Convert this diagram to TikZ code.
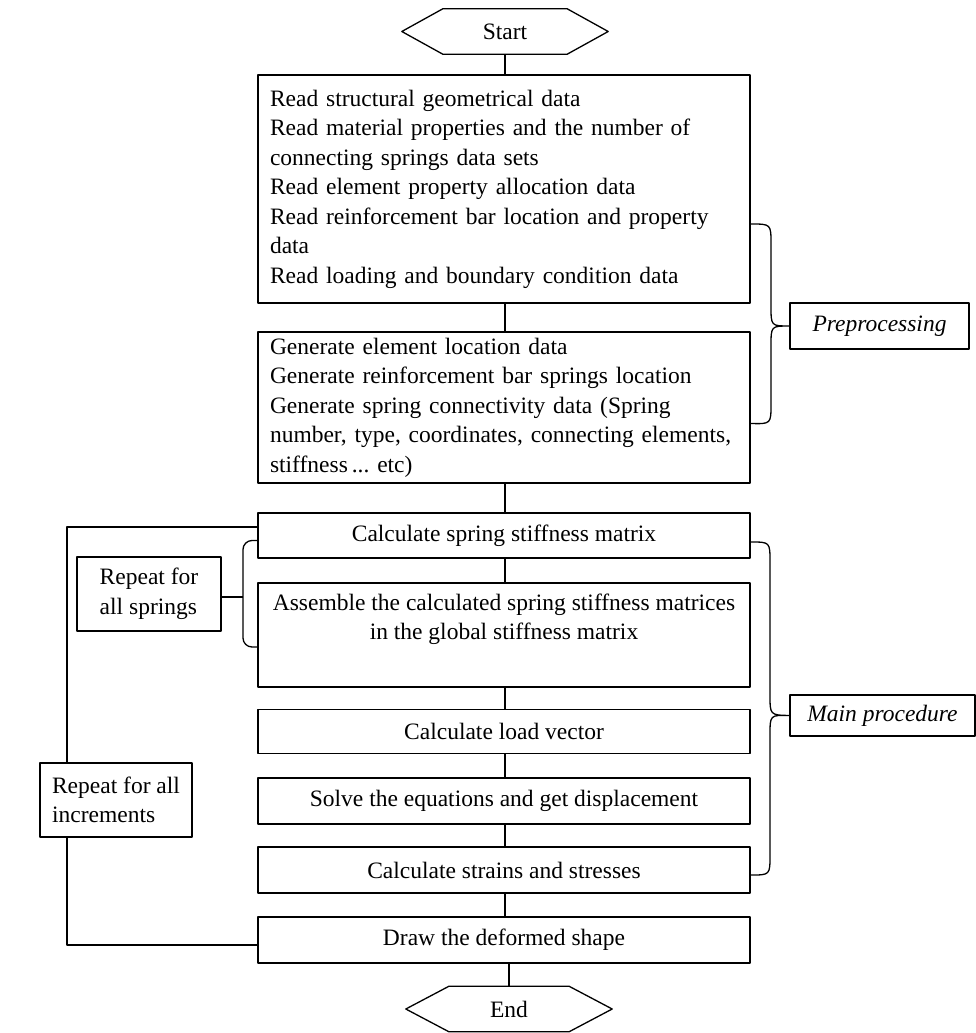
\documentclass[tikz,border=0pt]{standalone}
\usepackage{fontspec}
\setmainfont{Liberation Serif}
\usetikzlibrary{calc}
\begin{document}
\begin{tikzpicture}[x=1pt,y=-1pt,
  every node/.style={font=\fontsize{23.5}{29.5}\selectfont},
  ln/.style={line width=1.3pt, line join=round},
  stepbox/.style={draw, ln, minimum width=492, inner sep=0pt, align=center},
  hexnode/.style={minimum width=206, minimum height=45, inner sep=0pt},
  sidebox/.style={draw, ln, fill=white, inner sep=0pt, align=left},
  tagbox/.style={draw, ln, inner sep=0pt, font=\fontsize{23.5}{29.5}\selectfont\itshape}
]
\useasboundingbox (0,0) rectangle (976,1033);

% start / end
\node[hexnode] (start) at (505,31.5) {Start};
\draw[ln] (start.west) -- ($(start.north west)+(41,0)$) -- ($(start.north east)+(-41,0)$) -- (start.east) -- ($(start.south east)+(-41,0)$) -- ($(start.south west)+(41,0)$) -- cycle;
\node[hexnode] (end) at (509,1009) {End};
\draw[ln] (end.west) -- ($(end.north west)+(43,0)$) -- ($(end.north east)+(-43,0)$) -- (end.east) -- ($(end.south east)+(-43,0)$) -- ($(end.south west)+(43,0)$) -- cycle;

% main column
\node[stepbox, minimum height=228, text width=468, align=left] (s1) at (504,189) {Read structural geometrical data\\Read material properties and the number of\\connecting springs data sets\\Read element property allocation data\\Read reinforcement bar location and property\\data\\Read loading and boundary condition data};
\node[stepbox, minimum height=151, text width=468, align=left] (s2) at (504,407.5) {Generate element location data\\Generate reinforcement bar springs location\\Generate spring connectivity data (Spring\\number, type, coordinates, connecting elements,\\stiffness\,...\ etc)};
\node[stepbox, minimum height=45] (s3) at (504,535.5) {Calculate spring stiffness matrix};
\node[stepbox, minimum height=104, label={[anchor=north, align=center, yshift=-8pt]north:{Assemble the calculated spring stiffness matrices\\in the global stiffness matrix}}] (s4) at (504,635) {};
\node[stepbox, minimum height=44] (s5) at (504,731.5) {Calculate load vector};
\node[stepbox, minimum height=46] (s6) at (504,801) {Solve the equations and get displacement};
\node[stepbox, minimum height=46] (s7) at (504,870) {Calculate strains and stresses};
\node[stepbox, minimum height=46] (s8) at (504,940) {Draw the deformed shape};

% vertical connectors
\draw[ln] (start.south) -- (start.south |- s1.north);
\draw[ln] (start.south |- s1.south) -- (start.south |- s2.north);
\draw[ln] (start.south |- s2.south) -- (start.south |- s3.north);
\draw[ln] (start.south |- s3.south) -- (start.south |- s4.north);
\draw[ln] (start.south |- s4.south) -- (start.south |- s5.north);
\draw[ln] (start.south |- s5.south) -- (start.south |- s6.north);
\draw[ln] (start.south |- s6.south) -- (start.south |- s7.north);
\draw[ln] (start.south |- s7.south) -- (start.south |- s8.north);
\draw[ln] (end.north |- s8.south) -- (end.north);

% outer loop
\coordinate (lt) at (67,527);
\coordinate (lb) at (67,945);
\draw[ln] (lt -| s3.west) -- (lt) -- (lb) -- (lb -| s8.west);
\node[sidebox, minimum width=152, minimum height=74] (inc) at (116,800) {Repeat for all\\increments};

% inner bracket
\node[sidebox, minimum width=144, minimum height=74] (spr) at (149,594) {Repeat for\\all springs};
\coordinate (bt) at (243,597);
\draw[ln, rounded corners=9pt] ($(s3.west)+(0,5)$) -| (bt) |- ($(s4.west)+(0,12)$);
\draw[ln] (spr.east |- bt) -- (bt);

% right braces
\node[tagbox, minimum width=179, minimum height=46] (pre) at (879.5,326) {Preprocessing};
\node[tagbox, minimum width=185, minimum height=41] (mp) at (882.5,715.5) {Main procedure};
\coordinate (pa) at ($(s1.east)+(0,35)$);
\coordinate (pb) at ($(s2.east)+(0,16)$);
\draw[ln] (pa) .. controls (771,224) .. (771,244) -- (771,306) .. controls (771,326) .. (pre.west) .. controls (771,326) .. (771,346) -- (771,404) .. controls (771,424) .. (pb);
\coordinate (ma) at ($(s3.east)+(0,6.5)$);
\coordinate (mb) at ($(s7.east)+(0,5)$);
\draw[ln] (ma) .. controls (770,542) .. (770,562) -- (770,695) .. controls (770,715) .. (mp.west) .. controls (770,715) .. (770,735) -- (770,855) .. controls (770,875) .. (mb);
\end{tikzpicture}
\end{document}
